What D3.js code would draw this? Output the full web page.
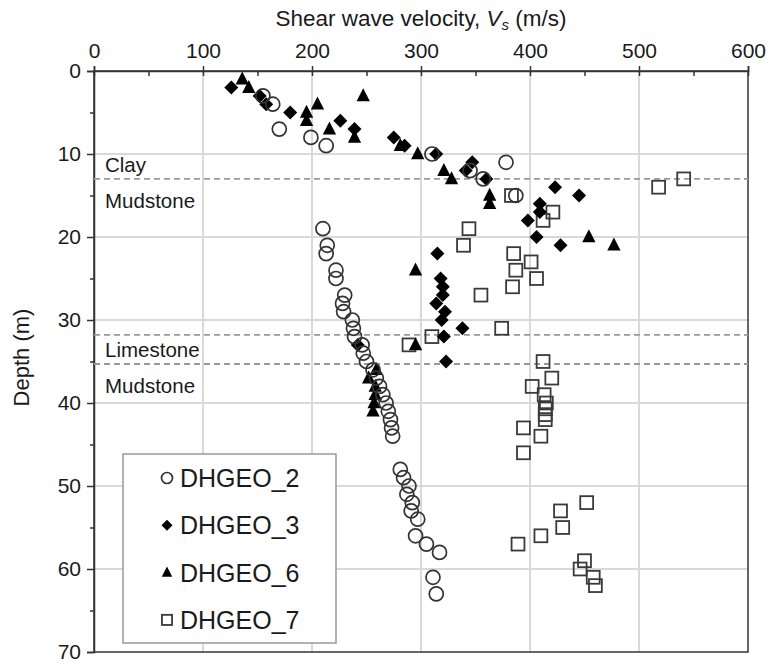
<!DOCTYPE html>
<html>
<head>
<meta charset="utf-8">
<script src="https://cdn.jsdelivr.net/npm/d3@7"></script>
<style>
  body { margin: 0; background: #fff; }
  svg { font-family: "Liberation Sans", Arial, sans-serif; }
</style>
</head>
<body>
<svg id="chart" width="769" height="664"></svg>
<script>
// values: [Vs (m/s), depth (m)]
const dhgeo2 = [[155,3],[164,4],[170,7],[199,8],[213,9],[310,10],[378,11],[345,12],[357,13],[387,15],
  [210,19],[214,21],[213,22],[222,24],[222,25],[230,27],[228,28],[229,29],[237,30],[238,31],[239,32],
  [246,33],[247,34],[250,35],[256,36],[259,37],[262,38],[265,39],[268,40],[270,41],[272,42],[273,43],[274,44],
  [281,48],[284,49],[289,50],[287,51],[292,52],[291,53],[297,54],[295,56],[305,57],[317,58],[311,61],[314,63]];
const dhgeo3 = [[126,2],[152,3],[158,4],[180,5],[226,6],[239,7],[275,8],[285,9],[314,10],[347,11],[341,12],
  [360,13],[423,14],[445,15],[409,16],[409,17],[398,18],[406,20],[428,21],[315,22],[318,25],[320,26],[320,27],
  [314,28],[322,29],[319,30],[338,31],[321,32],[242,33],[323,35]];
const dhgeo6 = [[136,1],[142,2],[247,3],[205,4],[195,5],[195,6],[216,7],[239,8],[281,9],[297,10],[321,12],
  [328,13],[363,15],[363,16],[454,20],[477,21],[295,24],[295,33],[259,36],[252,37],[258,38],[258,39],[257,40],[256,41]];
const dhgeo7 = [[541,13],[518,14],[383,15],[421,17],[412,18],[344,19],[339,21],[385,22],[401,23],[387,24],
  [406,25],[384,26],[355,27],[374,31],[310,32],[289,33],[412,35],[420,37],[402,38],[413,39],[415,40],
  [414,40.7],[414,41.4],[414,42],[394,43],[410,44],[394,46],[452,52],[428,53],[430,55],[410,56],[389,57],
  [450,59],[446,60],[458,61],[460,62]];

const xTicks = [0, 100, 200, 300, 400, 500, 600];
const yTicks = [0, 10, 20, 30, 40, 50, 60, 70];
const boundaries = [13, 31.8, 35.3];
const layerLabels = [
  { depth: 13, above: "Clay", below: "Mudstone" },
  { depth: 35.3, above: "Limestone", below: "Mudstone" }
];
const seriesNames = ["DHGEO_2", "DHGEO_3", "DHGEO_6", "DHGEO_7"];

const svg = d3.select("#chart");
const x = d3.scaleLinear().domain([0, 600]).range([94, 748]);
const y = d3.scaleLinear().domain([0, 70]).range([71, 652]);
const textColor = "#1a1a1a";

// gridlines
svg.append("g").selectAll("line").data(xTicks.slice(1, -1)).join("line")
  .attr("x1", d => x(d)).attr("x2", d => x(d)).attr("y1", y(0)).attr("y2", y(70))
  .attr("stroke", "#d9d9d9").attr("stroke-width", 2);
svg.append("g").selectAll("line").data(yTicks.slice(1, -1)).join("line")
  .attr("y1", d => y(d)).attr("y2", d => y(d)).attr("x1", x(0)).attr("x2", x(600))
  .attr("stroke", "#d9d9d9").attr("stroke-width", 2);

// frame
svg.append("rect").attr("x", x(0)).attr("y", y(0))
  .attr("width", x(600) - x(0)).attr("height", y(70) - y(0))
  .attr("fill", "none").attr("stroke", "#333").attr("stroke-width", 1.5);

// top axis
svg.append("g").attr("transform", `translate(0,${y(0)})`)
  .call(d3.axisTop(x).tickValues(xTicks).tickSize(5).tickPadding(8));
svg.append("g").attr("transform", `translate(0,${y(0)})`)
  .call(d3.axisBottom(x).tickValues(d3.range(0, 601, 50)).tickSize(5).tickFormat(""))
  .call(g => g.select(".domain").remove());

// left axis
svg.append("g").attr("transform", `translate(${x(0)},0)`)
  .call(d3.axisLeft(y).tickValues(yTicks).tickSize(7).tickPadding(6));
svg.append("g").attr("transform", `translate(${x(0)},0)`)
  .call(d3.axisLeft(y).tickValues(d3.range(5, 70, 10)).tickSize(4).tickFormat(""))
  .call(g => g.select(".domain").remove());

svg.selectAll(".tick line").attr("stroke", "#333").attr("stroke-width", 1.5);
svg.selectAll(".domain").attr("stroke", "#333").attr("stroke-width", 1.5);
svg.selectAll(".tick text").attr("font-size", 21).attr("fill", textColor)
  .attr("font-family", "'Liberation Sans', Arial, sans-serif");

// axis titles
const title = svg.append("text").attr("x", 421).attr("y", 26).attr("text-anchor", "middle")
  .attr("font-size", 22.5).attr("fill", textColor);
title.append("tspan").text("Shear wave velocity, ");
title.append("tspan").attr("font-style", "italic").text("V");
title.append("tspan").attr("font-style", "italic").attr("font-size", 15).attr("dy", 4).text("s");
title.append("tspan").attr("dy", -4).text(" (m/s)");

svg.append("text").attr("transform", `translate(29,${(y(0) + y(70)) / 2 - 4}) rotate(-90)`)
  .attr("text-anchor", "middle").attr("font-size", 22).attr("fill", textColor).text("Depth (m)");

// layer boundaries
svg.append("g").selectAll("line").data(boundaries).join("line")
  .attr("x1", x(0)).attr("x2", x(600)).attr("y1", d => y(d)).attr("y2", d => y(d))
  .attr("stroke", "#999").attr("stroke-width", 1.8).attr("stroke-dasharray", "6,4");

const labels = svg.append("g").attr("font-size", 20.5).attr("fill", textColor);
layerLabels.forEach(d => {
  labels.append("text").attr("x", 105).attr("y", y(d.depth) - 7).text(d.above);
  labels.append("text").attr("x", 105).attr("y", y(d.depth) + 29).text(d.below);
});

// markers
function drawMarker(g, type, s) {
  if (type === 0) {
    g.append("circle").attr("r", s * 0.5).attr("fill", "none")
      .attr("stroke", "#333").attr("stroke-width", 1.7);
  } else if (type === 1) {
    const h = s * 0.5;
    g.append("path").attr("d", `M0,${-h}L${h},0L0,${h}L${-h},0Z`).attr("fill", "#000");
  } else if (type === 2) {
    const w = s * 0.95;
    g.append("path").attr("d", `M0,${-w * 0.58}L${w / 2},${w * 0.4}L${-w / 2},${w * 0.4}Z`)
      .attr("fill", "#000");
  } else {
    const w = s * 0.92;
    g.append("rect").attr("x", -w / 2).attr("y", -w / 2).attr("width", w).attr("height", w)
      .attr("fill", "none").attr("stroke", "#3a3a3a").attr("stroke-width", 1.8);
  }
}

const allSeries = [dhgeo7, dhgeo6, dhgeo3, dhgeo2];
const typeOf = [3, 2, 1, 0];
allSeries.forEach((data, k) => {
  const g = svg.append("g");
  data.forEach(p => {
    const m = g.append("g").attr("transform", `translate(${x(p[0])},${y(p[1])})`);
    drawMarker(m, typeOf[k], 14);
  });
});

// legend
const legend = svg.append("g");
legend.append("rect").attr("x", 123).attr("y", 454).attr("width", 213).attr("height", 189)
  .attr("fill", "#fff").attr("stroke", "#999").attr("stroke-width", 1.5);
seriesNames.forEach((name, i) => {
  const cy = 478 + i * 47.3;
  const m = legend.append("g").attr("transform", `translate(167,${cy})`);
  drawMarker(m, i, 11);
  legend.append("text").attr("x", 180).attr("y", cy).attr("dy", "0.36em")
    .attr("font-size", 25).attr("fill", textColor).text(name);
});
</script>
</body>
</html>
